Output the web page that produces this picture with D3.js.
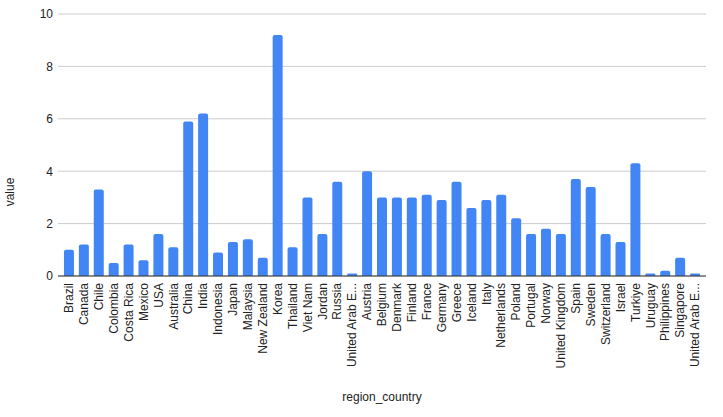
<!DOCTYPE html>
<html>
<head>
<meta charset="utf-8">
<script src="https://cdn.jsdelivr.net/npm/d3@7"></script>
<style>
  body { margin: 0; background: #fff; }
  text { font-family: "Liberation Sans", Arial, sans-serif; }
</style>
</head>
<body>
<div id="vis"></div>
<script>
// frame constants
const FRAME_WIDTH = 723;
const FRAME_HEIGHT = 417;
const MARGINS = {left: 58, right: 17, top: 14, bottom: 141};

const VIS_WIDTH = FRAME_WIDTH - MARGINS.left - MARGINS.right;
const VIS_HEIGHT = FRAME_HEIGHT - MARGINS.top - MARGINS.bottom;

// data
const countries = ["Brazil", "Canada", "Chile", "Colombia", "Costa Rica", "Mexico", "USA",
  "Australia", "China", "India", "Indonesia", "Japan", "Malaysia", "New Zealand", "Korea",
  "Thailand", "Viet Nam", "Jordan", "Russia", "United Arab E...", "Austria", "Belgium",
  "Denmark", "Finland", "France", "Germany", "Greece", "Iceland", "Italy", "Netherlands",
  "Poland", "Portugal", "Norway", "United Kingdom", "Spain", "Sweden", "Switzerland",
  "Israel", "Turkiye", "Uruguay", "Philippines", "Singapore", "United Arab E... "];
const values = [1.0, 1.2, 3.3, 0.5, 1.2, 0.6, 1.6,
  1.1, 5.9, 6.2, 0.9, 1.3, 1.4, 0.7, 9.2,
  1.1, 3.0, 1.6, 3.6, 0.1, 4.0, 3.0,
  3.0, 3.0, 3.1, 2.9, 3.6, 2.6, 2.9, 3.1,
  2.2, 1.6, 1.8, 1.6, 3.7, 3.4, 1.6,
  1.3, 4.3, 0.1, 0.2, 0.7, 0.1];
const yTicks = [0, 2, 4, 6, 8, 10];

const data = countries.map((c, i) => { return {country: c, value: values[i]}; });

const FRAME = d3.select("#vis")
                .append("svg")
                  .attr("width", FRAME_WIDTH)
                  .attr("height", FRAME_HEIGHT);

// scales
const X_SCALE = d3.scaleBand()
                  .domain(countries)
                  .range([0, VIS_WIDTH])
                  .paddingInner(0.33)
                  .paddingOuter(0.4);

const Y_SCALE = d3.scaleLinear()
                  .domain([0, 10])
                  .range([VIS_HEIGHT, 0]);

const plot = FRAME.append("g")
                  .attr("transform", "translate(" + MARGINS.left + "," + MARGINS.top + ")");

// gridlines
plot.append("g")
    .selectAll("line")
    .data(yTicks)
    .enter()
    .append("line")
      .attr("x1", 0)
      .attr("x2", VIS_WIDTH)
      .attr("y1", (d) => { return Y_SCALE(d); })
      .attr("y2", (d) => { return Y_SCALE(d); })
      .attr("stroke", "#cccccc")
      .attr("stroke-width", 1);

// bars with rounded tops
const r = 2;
plot.append("g")
    .selectAll("path")
    .data(data)
    .enter()
    .append("path")
      .attr("d", (d) => {
        const x0 = X_SCALE(d.country);
        const w = X_SCALE.bandwidth();
        const y0 = Y_SCALE(d.value);
        const yb = Y_SCALE(0);
        const rr = Math.min(r, (yb - y0) / 2);
        return "M" + x0 + "," + yb +
               "V" + (y0 + rr) +
               "Q" + x0 + "," + y0 + " " + (x0 + rr) + "," + y0 +
               "H" + (x0 + w - rr) +
               "Q" + (x0 + w) + "," + y0 + " " + (x0 + w) + "," + (y0 + rr) +
               "V" + yb + "Z";
      })
      .attr("fill", "#4285f4");

// baseline
plot.append("line")
    .attr("x1", 0)
    .attr("x2", VIS_WIDTH)
    .attr("y1", Y_SCALE(0))
    .attr("y2", Y_SCALE(0))
    .attr("stroke", "#333333")
    .attr("stroke-width", 1);

// y axis labels
const yAxis = plot.append("g")
    .call(d3.axisLeft(Y_SCALE).tickValues(yTicks).tickSize(0).tickPadding(5));
yAxis.select(".domain").remove();
yAxis.selectAll("text")
     .attr("font-size", "12px")
     .attr("fill", "#222222");

// x axis labels
const xAxis = plot.append("g")
    .attr("transform", "translate(0," + VIS_HEIGHT + ")")
    .call(d3.axisBottom(X_SCALE).tickSize(0));
xAxis.select(".domain").remove();
xAxis.selectAll("text")
     .attr("font-size", "12px")
     .attr("fill", "#222222")
     .attr("transform", "rotate(-90)")
     .attr("text-anchor", "end")
     .attr("x", -7)
     .attr("y", 0)
     .attr("dy", "0.35em")
     .text((d) => { return d.trim(); });

// axis titles
FRAME.append("text")
     .attr("x", MARGINS.left + VIS_WIDTH / 2)
     .attr("y", 401)
     .attr("text-anchor", "middle")
     .attr("font-size", "12px")
     .attr("fill", "#222222")
     .text("region_country");

FRAME.append("text")
     .attr("transform", "translate(14," + (MARGINS.top + VIS_HEIGHT / 2 + 47) + ") rotate(-90)")
     .attr("text-anchor", "middle")
     .attr("font-size", "12px")
     .attr("fill", "#222222")
     .text("value");
</script>
</body>
</html>
